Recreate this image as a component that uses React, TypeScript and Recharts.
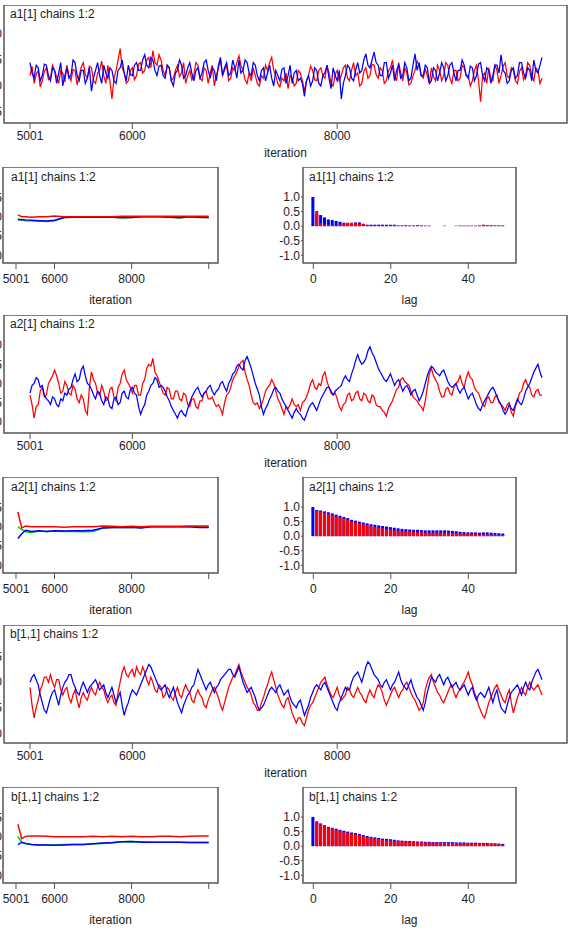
import { Fragment } from "react";
import {
  LineChart,
  Line,
  ComposedChart,
  Bar,
  XAxis,
  YAxis,
  ReferenceArea,
} from "recharts";

const FONT = '"Liberation Sans", Arial, Helvetica, sans-serif';
const INK = "#222";
const FRAME = "#555";
const RED = "#ff0000";
const BLUE = "#0000ff";
const GREEN = "#00c800";

// ---- axis ticks ----
const traceTicks = [5001, 6000, 8000];
const bgrTicks = [5001, 6000, 8000, 10000];
const bgrYTicks = [0, 0.5, 1, 1.5];
const lagTicks = [0, 20, 40];
const acfYTicks = [-1, -0.5, 0, 0.5, 1];
const a1YTicks = [-0.5, 0, 0.5, 1];
const a2YTicks = [0, 0.5, 1, 1.5, 2];
const b11YTicks = [0, 0.5, 1, 1.5];

// ---- trace values, thinned to every 20th iteration (5001 .. 10000) ----
const a1Red = [
  0.2, 0.38, 0.05, 0.22, 0.3, -0.02, 0.1, 0.28, 0.35, 0.12, 0.15, 0.4, 0.3, 0.18, 0.05, 0.3, 0.25, 0.08, 0.4, 0.2, 0.1, 0.32, 0.3, 0.02, 0.2, 0.36,
  0.45, 0.22, 0.15, 0.38, 0.35, 0.1, 0.05, 0.25, 0.3, 0.48, 0.2, 0.05, 0.4, 0.1, -0.25, 0.15, 0.3, 0.5, 0.72, 0.35, 0.25, 0.05, 0.1, 0.3, 0.35, 0.12,
  0.2, 0.42, 0.45, 0.25, 0.3, 0.5, 0.55, 0.35, 0.68, 0.45, 0.4, 0.6, 0.5, 0.3, 0.2, 0.4, 0.35, 0.1, 0.15, 0.3, 0.4, 0.18, 0.25, 0.45,
  0.05, 0.2, 0.3, 0.12, 0.2, 0.45, 0.4, 0.15, 0.1, 0.35, 0.3, 0.05, 0.25, 0.4, 0.0, 0.2, 0.35, 0.5, 0.2, 0.3, 0.4, 0.1, 0.15, 0.35, 0.3, 0.45,
  0.58, 0.4, 0.3, 0.12, 0.05, 0.25, 0.1, 0.35, 0.2, 0.05, 0.0, 0.2, 0.15, 0.4, 0.3, 0.45, 0.55, 0.3, 0.2, 0.05, -0.02, 0.15, 0.1, 0.25, -0.05,
  0.2, 0.15, 0.0, 0.05, 0.3, 0.25, 0.1, -0.1, 0.1, 0.2, 0.38, 0.3, 0.12, 0.1, 0.3, 0.35, 0.2, 0.15, 0.4, 0.25, 0.05, 0.0, 0.22, 0.3, 0.1,
  0.2, 0.35, 0.4, 0.15, 0.1, 0.3, 0.45, 0.2, 0.25, 0.0, 0.05, 0.28, 0.35, 0.15, 0.2, 0.42, 0.4, 0.22, 0.15, 0.35, 0.3, 0.05, 0.1, 0.3, 0.35,
  0.5, 0.2, 0.1, 0.45, 0.25, 0.1, 0.35, 0.25, 0.02, 0.05, 0.2, 0.3, 0.48, 0.4, 0.2, 0.15, 0.32, 0.2, 0.05, 0.35, 0.18, 0.1, 0.4, 0.3, 0.1,
  0.2, 0.45, 0.4, 0.15, 0.05, 0.3, 0.3, 0.1, 0.15, 0.4, 0.35, 0.2, 0.2, 0.0, 0.1, 0.3, 0.4, 0.1, -0.3, 0.2, 0.25, 0.05, 0.35, 0.15, 0.1,
  0.4, 0.3, 0.05, 0.2, 0.38, 0.45, 0.2, 0.15, 0.35, 0.3, 0.1, 0.05, 0.28, 0.35, 0.12, 0.2, 0.45, 0.4, 0.2, 0.1, 0.35, 0.3, 0.05, 0.15,
];
const a1Blue = [
  0.45, 0.25, 0.15, 0.4, 0.35, 0.1, 0.2, 0.42, 0.4, 0.2, 0.1, 0.35, 0.3, 0.05, 0.25, 0.45, 0.0, 0.2, 0.35, 0.15, 0.2, 0.5, 0.45, 0.2, 0.1, 0.3,
  0.3, 0.05, 0.15, 0.35, -0.1, 0.15, 0.3, 0.45, 0.2, 0.05, 0.4, 0.25, 0.15, 0.35, 0.3, 0.1, 0.05, 0.3, 0.35, 0.5, 0.25, 0.1, 0.4, 0.22, 0.2, 0.4,
  0.45, 0.3, 0.3, 0.5, 0.6, 0.4, 0.35, 0.55, 0.5, 0.3, 0.2, 0.38, 0.4, 0.2, 0.15, 0.4, 0.35, 0.1, 0.0, 0.25, 0.3, 0.5, 0.4, 0.15, 0.2,
  0.35, 0.45, 0.25, 0.1, 0.3, 0.35, 0.15, 0.25, 0.45, 0.5, 0.3, 0.15, 0.35, 0.3, 0.1, 0.4, 0.55, 0.2, 0.35, 0.45, 0.2, 0.25, 0.5, 0.35, 0.15,
  0.5, 0.25, 0.3, 0.5, 0.45, 0.25, 0.2, 0.45, 0.4, 0.2, 0.1, 0.3, 0.35, 0.1, 0.25, 0.4, 0.15, 0.0, 0.3, 0.2, 0.1, 0.32, 0.35, 0.05, 0.2,
  0.4, 0.05, 0.25, 0.3, 0.1, 0.15, 0.05, -0.2, 0.1, 0.2, 0.0, 0.1, 0.35, 0.3, 0.05, 0.0, 0.2, 0.25, 0.4, 0.15, -0.05, 0.35, 0.2, 0.1, 0.3,
  -0.25, 0.05, 0.2, 0.4, 0.35, 0.15, 0.1, 0.3, 0.45, 0.25, 0.3, 0.5, 0.62, 0.4, 0.35, 0.5, 0.65, 0.45, 0.4, 0.2, 0.2, 0.45, 0.45, 0.15, 0.25,
  0.4, 0.1, 0.3, 0.4, 0.15, 0.2, 0.45, 0.35, 0.1, 0.15, 0.4, 0.62, 0.3, 0.45, 0.2, 0.2, 0.4, 0.35, 0.05, 0.1, 0.35, 0.3, 0.1, 0.25, 0.45,
  0.35, 0.1, 0.2, 0.4, 0.45, 0.25, 0.1, 0.3, 0.3, 0.5, 0.4, 0.2, 0.15, 0.38, 0.35, 0.1, 0.2, 0.42, 0.45, 0.2, 0.1, 0.35, 0.3, 0.05, 0.2,
  0.4, 0.4, 0.25, 0.6, 0.3, 0.25, 0.05, 0.1, 0.3, 0.35, 0.15, 0.2, 0.45, 0.45, 0.25, 0.15, 0.35, 0.3, 0.1, 0.5, 0.3, 0.25, 0.4, 0.55,
];
const a2Red = [
  0.7, 0.45, 0.1, 0.4, 0.45, 0.8, 0.9, 0.65, 0.7, 1.0, 1.1, 1.2, 1.35, 1.2, 1.0, 0.75, 0.8, 1.05, 0.95, 0.75, 0.7, 0.95, 0.85, 0.6, 0.5, 0.7,
  0.6, 0.3, 0.2, 0.9, 1.3, 1.1, 1.0, 0.75, 0.7, 0.95, 0.8, 0.55, 0.6, 0.85, 0.9, 0.65, 0.55, 0.9, 1.0, 1.25, 1.35, 1.1, 1.0, 0.9, 0.75, 0.95,
  0.95, 0.7, 0.7, 1.0, 1.1, 1.4, 1.5, 1.45, 1.65, 1.3, 1.2, 1.05, 0.9, 0.75, 0.7, 0.9, 0.85, 0.6, 0.6, 0.8, 0.8, 0.6, 0.55, 0.75, 0.7,
  0.45, 0.4, 0.6, 0.6, 0.4, 0.35, 0.55, 0.55, 0.75, 0.8, 0.6, 0.6, 0.65, 0.5, 0.4, 0.45, 0.35, 0.2, 0.5, 0.7, 0.75, 0.9, 1.1, 1.2, 1.3,
  1.45, 1.55, 1.6, 1.3, 1.1, 0.95, 0.7, 0.5, 0.45, 0.5, 0.35, 0.45, 0.6, 0.8, 0.9, 0.95, 1.1, 1.0, 0.8, 0.6, 0.5, 0.35, 0.2, 0.4, 0.35,
  0.45, 0.6, 0.45, 0.4, 0.45, 0.3, 0.5, 0.55, 0.65, 0.8, 1.0, 1.1, 0.9, 0.85, 1.0, 0.95, 1.2, 1.3, 1.05, 0.9, 0.75, 0.7, 0.75, 0.6, 0.4,
  0.3, 0.45, 0.5, 0.7, 0.75, 0.55, 0.6, 0.75, 0.8, 0.6, 0.55, 0.75, 0.7, 0.55, 0.5, 0.7, 0.65, 0.45, 0.4, 0.4, 0.3, 0.25, 0.15, 0.35, 0.45,
  0.55, 0.7, 0.85, 0.9, 1.1, 1.15, 1.05, 1.0, 0.95, 0.8, 0.65, 0.6, 0.55, 0.45, 0.4, 0.3, 0.55, 0.9, 1.25, 1.4, 1.2, 1.1, 1.0, 0.8, 0.65,
  0.65, 0.85, 0.9, 0.75, 0.7, 0.9, 1.0, 1.05, 1.2, 1.0, 0.9, 1.15, 1.3, 1.15, 1.1, 0.9, 0.8, 0.75, 0.6, 0.45, 0.4, 0.6, 0.65, 0.5, 0.5,
  0.65, 0.7, 0.5, 0.45, 0.4, 0.3, 0.45, 0.5, 0.25, 0.15, 0.4, 0.55, 0.75, 0.8, 1.0, 1.1, 0.95, 0.9, 0.7, 0.65, 0.8, 0.85, 0.7, 0.7,
];
const a2Blue = [
  0.75, 0.95, 1.0, 1.15, 1.1, 0.9, 0.95, 0.7, 0.6, 0.55, 0.45, 0.65, 0.6, 0.45, 0.4, 0.6, 0.55, 0.75, 0.7, 0.85, 0.9, 1.1, 1.25, 1.05, 1.1, 1.35,
  1.45, 1.2, 1.0, 0.95, 0.85, 0.7, 0.6, 0.8, 0.75, 0.55, 0.45, 0.65, 0.6, 0.4, 0.35, 0.6, 0.65, 0.45, 0.5, 0.75, 0.8, 0.65, 0.6, 0.85, 0.9, 0.75,
  0.7, 0.4, 0.2, 0.35, 0.45, 0.7, 0.8, 0.95, 1.0, 1.15, 1.1, 0.9, 0.95, 0.9, 0.8, 0.65, 0.55, 0.4, 0.3, 0.2, 0.1, 0.25, 0.3, 0.2, 0.15,
  0.35, 0.5, 0.65, 0.75, 0.85, 0.9, 0.75, 0.65, 0.75, 0.8, 0.9, 0.95, 0.8, 0.7, 0.8, 0.85, 1.0, 1.05, 0.9, 0.8, 1.0, 1.1, 1.25, 1.3, 1.45,
  1.5, 1.4, 1.35, 1.6, 1.7, 1.55, 1.4, 1.2, 1.0, 0.85, 0.7, 0.4, 0.2, 0.35, 0.45, 0.6, 0.7, 0.85, 0.9, 0.8, 0.75, 0.6, 0.5, 0.4, 0.3,
  0.2, 0.1, 0.25, 0.35, 0.25, 0.2, 0.1, 0.05, 0.2, 0.35, 0.45, 0.5, 0.4, 0.3, 0.45, 0.6, 0.7, 0.8, 0.9, 0.9, 0.8, 0.7, 0.8, 0.85, 0.9,
  0.95, 1.1, 1.2, 1.1, 1.05, 1.25, 1.4, 1.6, 1.75, 1.6, 1.5, 1.55, 1.65, 1.85, 1.95, 1.8, 1.7, 1.55, 1.4, 1.3, 1.2, 1.1, 1.05, 1.15, 1.25,
  1.1, 0.95, 1.05, 1.1, 0.95, 0.8, 0.9, 0.95, 0.85, 0.7, 0.8, 0.85, 0.7, 0.55, 0.65, 0.8, 1.0, 1.2, 1.35, 1.45, 1.4, 1.3, 1.25, 1.2, 1.3,
  1.35, 1.2, 1.05, 0.95, 0.9, 0.95, 1.0, 0.85, 0.75, 0.85, 0.9, 0.75, 0.6, 0.7, 0.75, 0.6, 0.45, 0.35, 0.3, 0.45, 0.55, 0.65, 0.75, 0.85, 0.9,
  0.8, 0.65, 0.55, 0.45, 0.3, 0.2, 0.3, 0.45, 0.35, 0.3, 0.45, 0.6, 0.5, 0.45, 0.6, 0.8, 0.9, 1.0, 1.15, 1.3, 1.4, 1.5, 1.3, 1.15,
];
const b11Red = [
  0.9, 0.55, 0.3, 0.5, 0.65, 0.85, 0.95, 1.1, 1.1, 1.0, 1.15, 1.0, 0.9, 1.05, 1.05, 0.85, 0.75, 0.85, 0.9, 0.7, 0.6, 0.75, 0.85, 0.65, 0.5, 0.7,
  0.8, 0.7, 0.65, 0.8, 0.9, 0.8, 0.75, 0.9, 1.0, 0.9, 0.85, 0.7, 0.6, 0.7, 0.75, 0.6, 0.55, 0.8, 1.0, 1.2, 1.3, 1.15, 1.1, 1.2, 1.25, 1.1,
  1.3, 1.2, 1.15, 1.3, 1.2, 1.05, 0.95, 1.1, 1.0, 0.85, 0.8, 0.95, 0.9, 0.7, 0.75, 0.9, 0.85, 0.7, 0.65, 0.8, 0.9, 0.75, 0.7, 0.85, 0.95,
  0.85, 0.8, 0.65, 0.6, 0.75, 0.85, 0.75, 0.7, 0.55, 0.5, 0.65, 0.75, 0.85, 0.9, 0.8, 0.7, 0.55, 0.45, 0.6, 0.75, 0.9, 1.0, 1.1, 1.15, 1.25,
  1.35, 1.2, 1.1, 1.0, 0.9, 0.85, 0.75, 0.6, 0.55, 0.45, 0.45, 0.6, 0.7, 0.85, 0.95, 1.1, 1.2, 1.05, 0.9, 0.75, 0.65, 0.55, 0.5, 0.65, 0.7,
  0.55, 0.4, 0.3, 0.2, 0.3, 0.3, 0.2, 0.15, 0.3, 0.45, 0.55, 0.6, 0.7, 0.8, 0.9, 1.0, 1.05, 1.1, 0.95, 0.85, 0.75, 0.7, 0.8, 0.9, 0.75,
  0.65, 0.7, 0.75, 0.9, 0.85, 0.75, 0.7, 0.8, 0.9, 0.8, 0.75, 0.65, 0.6, 0.75, 0.85, 0.75, 0.7, 0.85, 0.95, 0.9, 0.8, 0.65, 0.55, 0.65, 0.75,
  0.85, 0.9, 0.8, 0.7, 0.8, 0.85, 0.95, 1.0, 0.9, 0.8, 0.7, 0.65, 0.55, 0.45, 0.5, 0.6, 0.85, 1.0, 1.1, 1.15, 1.0, 0.9, 0.8, 0.75, 0.65,
  0.6, 0.7, 0.8, 0.9, 0.95, 0.8, 0.7, 0.8, 0.85, 0.95, 1.0, 1.1, 1.2, 1.05, 0.95, 0.8, 0.7, 0.55, 0.45, 0.35, 0.3, 0.45, 0.6, 0.7, 0.8,
  0.9, 0.95, 0.85, 0.75, 0.65, 0.6, 0.75, 0.85, 0.6, 0.4, 0.55, 0.7, 0.8, 0.9, 0.8, 0.75, 0.9, 1.0, 0.9, 0.85, 0.9, 0.95, 0.85, 0.75,
];
const b11Blue = [
  1.0, 1.1, 1.15, 1.05, 0.95, 0.75, 0.6, 0.45, 0.4, 0.55, 0.7, 0.8, 0.85, 0.7, 0.55, 0.75, 0.9, 1.0, 1.05, 1.15, 1.15, 1.0, 0.9, 0.8, 0.75, 0.9,
  1.0, 0.9, 0.8, 0.9, 0.95, 1.0, 1.05, 0.95, 0.85, 0.9, 0.95, 0.8, 0.7, 0.8, 0.9, 0.75, 0.6, 0.7, 0.8, 0.55, 0.35, 0.5, 0.6, 0.75, 0.85, 0.8,
  0.75, 0.85, 0.95, 1.05, 1.15, 1.25, 1.35, 1.3, 1.2, 1.1, 1.0, 0.9, 0.85, 0.9, 0.95, 0.8, 0.7, 0.8, 0.9, 0.75, 0.6, 0.5, 0.4, 0.55, 0.65,
  0.75, 0.8, 0.9, 0.95, 1.1, 1.25, 1.15, 1.05, 0.95, 0.85, 0.95, 1.0, 0.9, 0.8, 0.9, 0.95, 1.05, 1.1, 1.15, 1.2, 1.25, 1.25, 1.15, 1.1, 1.2,
  1.3, 1.15, 1.0, 0.9, 0.8, 0.85, 0.9, 0.8, 0.7, 0.55, 0.45, 0.5, 0.55, 0.65, 0.75, 0.85, 0.9, 0.85, 0.8, 0.9, 0.95, 0.85, 0.75, 0.8, 0.85,
  0.7, 0.6, 0.55, 0.5, 0.6, 0.65, 0.5, 0.35, 0.45, 0.55, 0.7, 0.8, 0.9, 0.95, 0.9, 0.85, 0.95, 1.0, 0.9, 0.8, 0.7, 0.6, 0.5, 0.45, 0.6,
  0.7, 0.8, 0.9, 0.85, 0.85, 1.0, 1.1, 1.15, 1.2, 1.1, 1.0, 1.15, 1.3, 1.4, 1.35, 1.25, 1.15, 1.1, 1.05, 0.95, 0.9, 1.0, 1.05, 0.95, 0.85,
  0.95, 1.0, 1.1, 1.2, 1.05, 0.95, 0.9, 0.85, 0.95, 1.05, 0.9, 0.8, 0.7, 0.65, 0.55, 0.45, 0.6, 0.8, 0.95, 1.1, 1.05, 1.0, 1.1, 1.15, 1.05,
  0.95, 1.05, 1.1, 1.0, 0.9, 0.95, 1.0, 0.9, 0.85, 0.9, 0.95, 0.85, 0.75, 0.85, 0.9, 0.75, 0.65, 0.75, 0.8, 0.75, 0.7, 0.8, 0.9, 0.75, 0.6,
  0.75, 0.85, 0.65, 0.5, 0.45, 0.4, 0.55, 0.7, 0.8, 0.85, 0.9, 0.95, 0.85, 0.75, 0.9, 1.0, 0.9, 0.85, 1.0, 1.1, 1.2, 1.25, 1.15, 1.05,
];

// ---- Brooks-Gelman-Rubin statistics ----
const bgrIters = [5050, 5150, 5250, 5400, 5600, 5800, 6000, 6250, 6500, 6750, 7000, 7250, 7500, 7750, 8000, 8250, 8500, 8750, 9000, 9250, 9500, 9750, 10000];
const a1BgrRed = [1.05, 1.0, 1.0, 0.99, 1.0, 1.0, 1.02, 1.0, 1.0, 1.0, 1.0, 1.0, 1.0, 1.01, 1.01, 1.01, 1.01, 1.01, 1.01, 1.01, 1.01, 1.01, 1.01];
const a1BgrGreen = [0.95, 0.92, 0.9, 0.9, 0.89, 0.88, 0.9, 0.98, 0.99, 0.99, 0.99, 0.99, 0.99, 0.97, 0.98, 1.0, 1.0, 1.0, 0.99, 0.97, 1.0, 0.98, 0.98];
const a1BgrBlue = [0.92, 0.93, 0.92, 0.91, 0.9, 0.89, 0.91, 0.98, 0.99, 0.99, 0.99, 0.99, 0.99, 0.98, 0.98, 1.0, 1.0, 1.0, 0.99, 0.98, 1.0, 0.99, 0.98];
const a2BgrRed = [1.38, 0.97, 1.02, 1.0, 1.0, 1.0, 1.0, 0.99, 1.0, 1.0, 1.0, 1.02, 1.01, 1.0, 1.01, 1.0, 1.01, 1.01, 1.01, 1.01, 1.02, 1.02, 1.02];
const a2BgrGreen = [1.0, 0.93, 0.87, 0.85, 0.89, 0.88, 0.89, 0.88, 0.88, 0.87, 0.88, 0.97, 0.98, 0.98, 0.99, 0.98, 1.0, 1.0, 1.0, 1.0, 1.0, 1.0, 0.99];
const a2BgrBlue = [0.7, 0.82, 0.91, 0.88, 0.9, 0.88, 0.9, 0.89, 0.9, 0.9, 0.91, 0.97, 0.98, 0.98, 0.99, 0.97, 1.0, 1.0, 1.0, 1.0, 1.0, 0.98, 0.98];
const b11BgrRed = [1.32, 0.95, 1.01, 1.02, 1.02, 1.01, 1.0, 1.0, 1.0, 1.0, 1.01, 1.0, 1.01, 1.0, 1.01, 1.0, 1.0, 1.01, 1.01, 1.0, 1.01, 1.02, 1.02];
const b11BgrGreen = [1.0, 0.86, 0.82, 0.8, 0.79, 0.79, 0.79, 0.8, 0.8, 0.8, 0.82, 0.83, 0.84, 0.87, 0.88, 0.87, 0.86, 0.86, 0.86, 0.86, 0.85, 0.85, 0.85];
const b11BgrBlue = [0.8, 0.86, 0.83, 0.8, 0.79, 0.79, 0.78, 0.79, 0.8, 0.8, 0.82, 0.84, 0.85, 0.87, 0.88, 0.86, 0.86, 0.86, 0.86, 0.86, 0.85, 0.85, 0.85];

// ---- autocorrelations, lags 0..49 (red lag 0 sits under the blue bar) ----
const a1AcfBlue = [
  1.0, 0.4, 0.38, 0.3, 0.23, 0.21, 0.18, 0.15, 0.12, 0.08, 0.08, 0.13, 0.13, 0.08, 0.05, 0.05, 0.05, 0.05, 0.05, 0.05, 0.05, 0.05, 0.02, 0.02, 0.03,
  0.02, 0.02, 0.03, 0.02, 0.01, 0.01, 0.0, 0.0, 0.0, 0.0, 0.0, 0.0, 0.0, 0.01, 0.01, 0.01, 0.01, 0.01, 0.02, 0.03, 0.03, 0.03, 0.02, 0.02, 0.02,
];
const a1AcfRed = [
  null, 0.52, 0.1, 0.05, 0.05, 0.04, 0.03, 0.05, 0.1, 0.12, 0.12, 0.1, 0.09, 0.08, 0.03, 0.02, 0.02, 0.02, 0.02, 0.02, 0.02, 0.02, 0.02, 0.02, 0.02,
  0.02, 0.02, 0.02, 0.02, 0.02, 0.02, 0.0, 0.0, 0.0, 0.02, 0.0, 0.0, 0.02, 0.02, 0.02, 0.02, 0.02, 0.02, 0.02, 0.05, 0.02, 0.02, 0.02, 0.02, 0.02,
];
const a2AcfBlue = [
  1.0, 0.9, 0.88, 0.85, 0.82, 0.78, 0.74, 0.7, 0.66, 0.62, 0.56, 0.53, 0.5, 0.47, 0.44, 0.41, 0.39, 0.37, 0.35, 0.33, 0.31, 0.29, 0.27, 0.25, 0.24,
  0.23, 0.22, 0.22, 0.21, 0.2, 0.2, 0.2, 0.2, 0.2, 0.2, 0.19, 0.18, 0.17, 0.15, 0.14, 0.13, 0.13, 0.13, 0.12, 0.13, 0.13, 0.12, 0.11, 0.1, 0.09,
];
const a2AcfRed = [
  null, 0.87, 0.84, 0.8, 0.76, 0.72, 0.68, 0.64, 0.6, 0.56, 0.5, 0.47, 0.44, 0.41, 0.38, 0.34, 0.31, 0.29, 0.27, 0.24, 0.22, 0.2, 0.18, 0.17, 0.16,
  0.15, 0.14, 0.13, 0.13, 0.12, 0.12, 0.12, 0.12, 0.12, 0.12, 0.12, 0.11, 0.1, 0.09, 0.08, 0.08, 0.07, 0.07, 0.06, 0.06, 0.06, 0.05, 0.05, 0.04, 0.04,
];
const b11AcfBlue = [
  1.0, 0.85, 0.78, 0.72, 0.66, 0.63, 0.6, 0.56, 0.53, 0.5, 0.47, 0.45, 0.42, 0.38, 0.35, 0.32, 0.3, 0.28, 0.26, 0.25, 0.24, 0.22, 0.2, 0.19, 0.18,
  0.18, 0.17, 0.16, 0.16, 0.15, 0.15, 0.14, 0.14, 0.14, 0.14, 0.14, 0.14, 0.13, 0.13, 0.13, 0.12, 0.12, 0.12, 0.11, 0.11, 0.11, 0.1, 0.1, 0.09, 0.08,
];
const b11AcfRed = [
  null, 0.82, 0.75, 0.69, 0.63, 0.6, 0.56, 0.52, 0.48, 0.46, 0.42, 0.4, 0.38, 0.34, 0.31, 0.28, 0.26, 0.24, 0.22, 0.2, 0.19, 0.18, 0.17, 0.16, 0.15,
  0.15, 0.14, 0.13, 0.13, 0.12, 0.12, 0.12, 0.12, 0.12, 0.11, 0.11, 0.11, 0.1, 0.1, 0.1, 0.1, 0.09, 0.09, 0.09, 0.08, 0.08, 0.08, 0.07, 0.07, 0.05,
];

// plot-area geometry shared by every row of panels
const TRACE_X = [4747, 10244];
const BGR_X = [4664, 10241];
const BGR_Y = [-0.1875, 2.278];
const LAG_X = [-2.66, 52.31];
const ACF_Y = [-1.264, 2.03];
const Y_AXIS_W = 40;

// samples are evenly spaced over iterations 5001..10000
const toTrace = (vals: number[]) =>
  vals.map((v, i) => ({ iter: 5001 + (i * 4999) / (vals.length - 1), v }));

const tickStyle = { fontSize: 12, fill: INK };
const fmt1 = (v: number) => v.toFixed(1);

function PanelTitle(props: any) {
  const { viewBox, title, padX, padY } = props;
  if (!viewBox) return null;
  return (
    <text x={viewBox.x + padX} y={viewBox.y + padY} fontSize={12} fill={INK}>
      {title}
    </text>
  );
}

function TracePanel({ top, title, red, blue, yDomain, yTicks }: any) {
  return (
    <div style={{ position: "absolute", left: 4 - Y_AXIS_W, top }}>
      <LineChart width={Y_AXIS_W + 563 + 4} height={118 + 40} margin={{ top: 0, right: 4, bottom: 0, left: 0 }}>
        <XAxis
          dataKey="iter"
          type="number"
          domain={TRACE_X}
          allowDataOverflow
          ticks={traceTicks}
          interval={0}
          height={40}
          tickSize={6}
          tickMargin={2}
          axisLine={false}
          tickLine={{ stroke: FRAME }}
          tick={tickStyle}
          label={{ value: "iteration", position: "insideBottom", offset: 6, fontSize: 12, fill: INK }}
        />
        <YAxis
          type="number"
          domain={yDomain}
          allowDataOverflow
          ticks={yTicks}
          interval={0}
          width={Y_AXIS_W}
          tickSize={0}
          tickMargin={2}
          axisLine={false}
          tickLine={false}
          tick={tickStyle}
          tickFormatter={fmt1}
        />
        <ReferenceArea
          x1={TRACE_X[0]}
          x2={TRACE_X[1]}
          y1={yDomain[0]}
          y2={yDomain[1]}
          fill="none"
          stroke={FRAME}
          strokeWidth={1.5}
          ifOverflow="visible"
          label={<PanelTitle title={title} padX={6} padY={12.5} />}
        />
        <Line data={toTrace(red)} type="linear" dataKey="v" stroke={RED} strokeWidth={1.25} dot={false} isAnimationActive={false} />
        <Line data={toTrace(blue)} type="linear" dataKey="v" stroke={BLUE} strokeWidth={1.25} dot={false} isAnimationActive={false} />
      </LineChart>
    </div>
  );
}

function BgrPanel({ top, title, red, green, blue }: any) {
  const data = bgrIters.map((it, i) => ({ iter: it, red: red[i], green: green[i], blue: blue[i] }));
  return (
    <div style={{ position: "absolute", left: 3 - Y_AXIS_W, top }}>
      <LineChart width={Y_AXIS_W + 215 + 4} height={96 + 44} data={data} margin={{ top: 0, right: 4, bottom: 0, left: 0 }}>
        <XAxis
          dataKey="iter"
          type="number"
          domain={BGR_X}
          allowDataOverflow
          ticks={bgrTicks}
          interval={0}
          height={44}
          tickSize={6}
          tickMargin={5}
          axisLine={false}
          tickLine={{ stroke: FRAME }}
          tick={tickStyle}
          tickFormatter={(v: number) => (v === 10000 ? "" : String(v))}
          label={{ value: "iteration", position: "insideBottom", offset: 3.5, fontSize: 12, fill: INK }}
        />
        <YAxis
          type="number"
          domain={BGR_Y}
          allowDataOverflow
          ticks={bgrYTicks}
          interval={0}
          width={Y_AXIS_W}
          tickSize={0}
          tickMargin={1}
          axisLine={false}
          tickLine={false}
          tick={tickStyle}
          tickFormatter={fmt1}
        />
        <ReferenceArea
          x1={BGR_X[0]}
          x2={BGR_X[1]}
          y1={BGR_Y[0]}
          y2={BGR_Y[1]}
          fill="none"
          stroke={FRAME}
          strokeWidth={1.5}
          ifOverflow="visible"
          label={<PanelTitle title={title} padX={8} padY={13.5} />}
        />
        <Line type="linear" dataKey="green" stroke={GREEN} strokeWidth={1.5} dot={false} isAnimationActive={false} />
        <Line type="linear" dataKey="blue" stroke={BLUE} strokeWidth={1.5} dot={false} isAnimationActive={false} />
        <Line type="linear" dataKey="red" stroke={RED} strokeWidth={1.5} dot={false} isAnimationActive={false} />
      </LineChart>
    </div>
  );
}

function AcfPanel({ top, title, red, blue }: any) {
  const data = blue.map((b: number, lag: number) => ({ lag, blue: b, red: red[lag] }));
  return (
    <div style={{ position: "absolute", left: 303 - Y_AXIS_W, top }}>
      <ComposedChart width={Y_AXIS_W + 213 + 4} height={96 + 44} data={data} margin={{ top: 0, right: 4, bottom: 0, left: 0 }}>
        <XAxis
          dataKey="lag"
          type="number"
          domain={LAG_X}
          allowDataOverflow
          ticks={lagTicks}
          interval={0}
          height={44}
          tickSize={6}
          tickMargin={5}
          axisLine={false}
          tickLine={{ stroke: FRAME }}
          tick={tickStyle}
          label={{ value: "lag", position: "insideBottom", offset: 3.5, fontSize: 12, fill: INK }}
        />
        <XAxis xAxisId="second" dataKey="lag" type="number" domain={LAG_X} allowDataOverflow ticks={lagTicks} hide />
        <YAxis
          type="number"
          domain={ACF_Y}
          allowDataOverflow
          ticks={acfYTicks}
          interval={0}
          width={Y_AXIS_W}
          tickSize={2}
          tickMargin={1}
          axisLine={false}
          tickLine={{ stroke: FRAME }}
          tick={tickStyle}
          tickFormatter={fmt1}
        />
        <ReferenceArea
          x1={LAG_X[0]}
          x2={LAG_X[1]}
          y1={ACF_Y[0]}
          y2={ACF_Y[1]}
          fill="none"
          stroke={FRAME}
          strokeWidth={1.5}
          ifOverflow="visible"
          label={<PanelTitle title={title} padX={6} padY={13.5} />}
        />
        <Bar dataKey="blue" fill={BLUE} barSize={3} isAnimationActive={false} />
        <Bar dataKey="red" xAxisId="second" fill={RED} barSize={3} isAnimationActive={false} />
      </ComposedChart>
    </div>
  );
}

const rows = [
  {
    name: "a1[1]",
    red: a1Red, blue: a1Blue, yDomain: [-0.712, 1.558], yTicks: a1YTicks,
    bgr: [a1BgrRed, a1BgrGreen, a1BgrBlue], acf: [a1AcfRed, a1AcfBlue],
  },
  {
    name: "a2[1]",
    red: a2Red, blue: a2Blue, yDomain: [-0.286, 2.779], yTicks: a2YTicks,
    bgr: [a2BgrRed, a2BgrGreen, a2BgrBlue], acf: [a2AcfRed, a2AcfBlue],
  },
  {
    name: "b[1,1]",
    red: b11Red, blue: b11Blue, yDomain: [-0.19, 2.121], yTicks: b11YTicks,
    bgr: [b11BgrRed, b11BgrGreen, b11BgrBlue], acf: [b11AcfRed, b11AcfBlue],
  },
];

export default function App() {
  return (
    <div
      style={{
        position: "absolute",
        left: 0,
        top: 0,
        width: 575,
        height: 947,
        overflow: "hidden",
        background: "#fff",
        fontFamily: FONT,
      }}
    >
      {rows.map((r, k) => {
        const title = `${r.name} chains 1:2`;
        return (
          <Fragment key={r.name}>
            <TracePanel top={5 + 310 * k} title={title} red={r.red} blue={r.blue} yDomain={r.yDomain} yTicks={r.yTicks} />
            <BgrPanel top={167 + 310 * k} title={title} red={r.bgr[0]} green={r.bgr[1]} blue={r.bgr[2]} />
            <AcfPanel top={167 + 310 * k} title={title} red={r.acf[0]} blue={r.acf[1]} />
          </Fragment>
        );
      })}
    </div>
  );
}
